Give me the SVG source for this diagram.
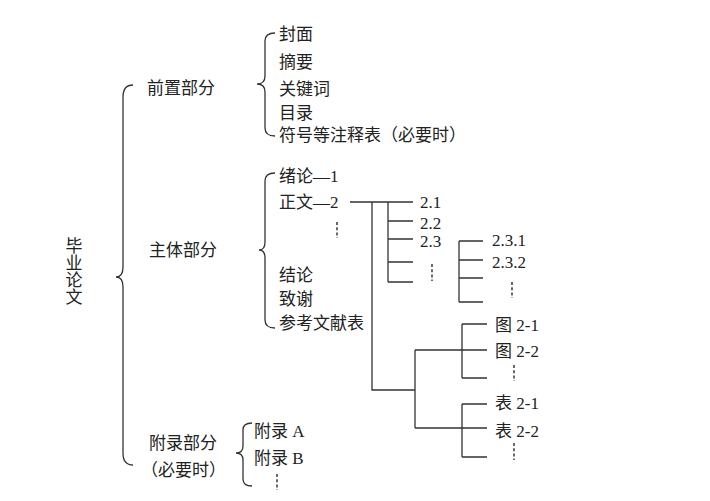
<svg xmlns="http://www.w3.org/2000/svg" width="710" height="501" viewBox="0 0 710 501">
<style>
text{font-family:"Liberation Serif","Noto Sans CJK SC",serif;font-size:17px;fill:#222;dominant-baseline:central}
.br{fill:none;stroke:#333;stroke-width:1.3}
.ln{fill:none;stroke:#333;stroke-width:1.3}
.dots{stroke:#444;stroke-width:1.6;stroke-dasharray:3 2.2}
</style>
<rect width="710" height="501" fill="#fff"/>
<g id="root"><text x="72" y="237" writing-mode="vertical-rl" style="dominant-baseline:auto">毕业论文</text></g>
<g id="front"><text x="147" y="88">前置部分</text></g>
<g id="body"><text x="149" y="250">主体部分</text></g>
<g id="appendix"><text x="149" y="443">附录部分</text><text x="141" y="470">（必要时）</text></g>
<g id="front-items">
<text x="279" y="34">封面</text>
<text x="279" y="62">摘要</text>
<text x="279" y="89">关键词</text>
<text x="279" y="113">目录</text>
<text x="279" y="135">符号等注释表（必要时）</text>
</g>
<g id="body-items">
<text x="279" y="176">绪论—1</text>
<text x="279" y="202">正文—2</text>
<line class="dots" x1="337" y1="222" x2="337" y2="238"/>
<text x="279" y="275">结论</text>
<text x="279" y="299">致谢</text>
<text x="279" y="323">参考文献表</text>
</g>
<g id="sections">
<text x="420" y="202">2.1</text>
<text x="420" y="223">2.2</text>
<text x="420" y="241">2.3</text>
<line class="dots" x1="432" y1="264" x2="432" y2="281"/>
</g>
<g id="subsections">
<text x="492" y="240">2.3.1</text>
<text x="492" y="262">2.3.2</text>
<line class="dots" x1="512" y1="282" x2="512" y2="298"/>
</g>
<g id="figures">
<text x="495" y="325">图 2-1</text>
<text x="495" y="351">图 2-2</text>
<line class="dots" x1="514" y1="365" x2="514" y2="381"/>
</g>
<g id="tables">
<text x="495" y="403">表 2-1</text>
<text x="495" y="431">表 2-2</text>
<line class="dots" x1="514" y1="443" x2="514" y2="460"/>
</g>
<g id="appendix-items">
<text x="254" y="431">附录 A</text>
<text x="254" y="458">附录 B</text>
<line class="dots" x1="277" y1="474" x2="277" y2="490"/>
</g>
<g id="connectors">
<path class="br" d="M133,85 Q123,85 123,97 L123,267 Q123,277 116,277 Q123,277 123,287 L123,453 Q123,465 133,465"/>
<path class="br" d="M275,33 Q265,33 265,41 L265,76 Q265,84 257,84 Q265,84 265,92 L265,128 Q265,136 275,136"/>
<path class="br" d="M275,173 Q265,173 265,181 L265,242 Q265,250 259,250 Q265,250 265,258 L265,320 Q265,328 275,328"/>
<path class="br" d="M252,423 Q243,423 243,430 L243,446 Q243,453 236,453 Q243,453 243,460 L243,479 Q243,486 252,486"/>
<path class="ln" d="M350,202 H413 M388,202 V282 M388,221 H413 M388,239 H413 M388,262 H413 M388,282 H413"/>
<path class="ln" d="M372,202 V390 H415 M415,350 V428"/>
<path class="ln" d="M459,241 V302 M459,241 H483 M459,260 H483 M459,278 H483 M459,302 H483"/>
<path class="ln" d="M415,350 H462 M462,324 V378 M462,324 H487 M462,350 H487 M462,378 H487"/>
<path class="ln" d="M415,428 H462 M462,404 V457 M462,404 H487 M462,428 H487 M462,457 H487"/>
</g>
</svg>
